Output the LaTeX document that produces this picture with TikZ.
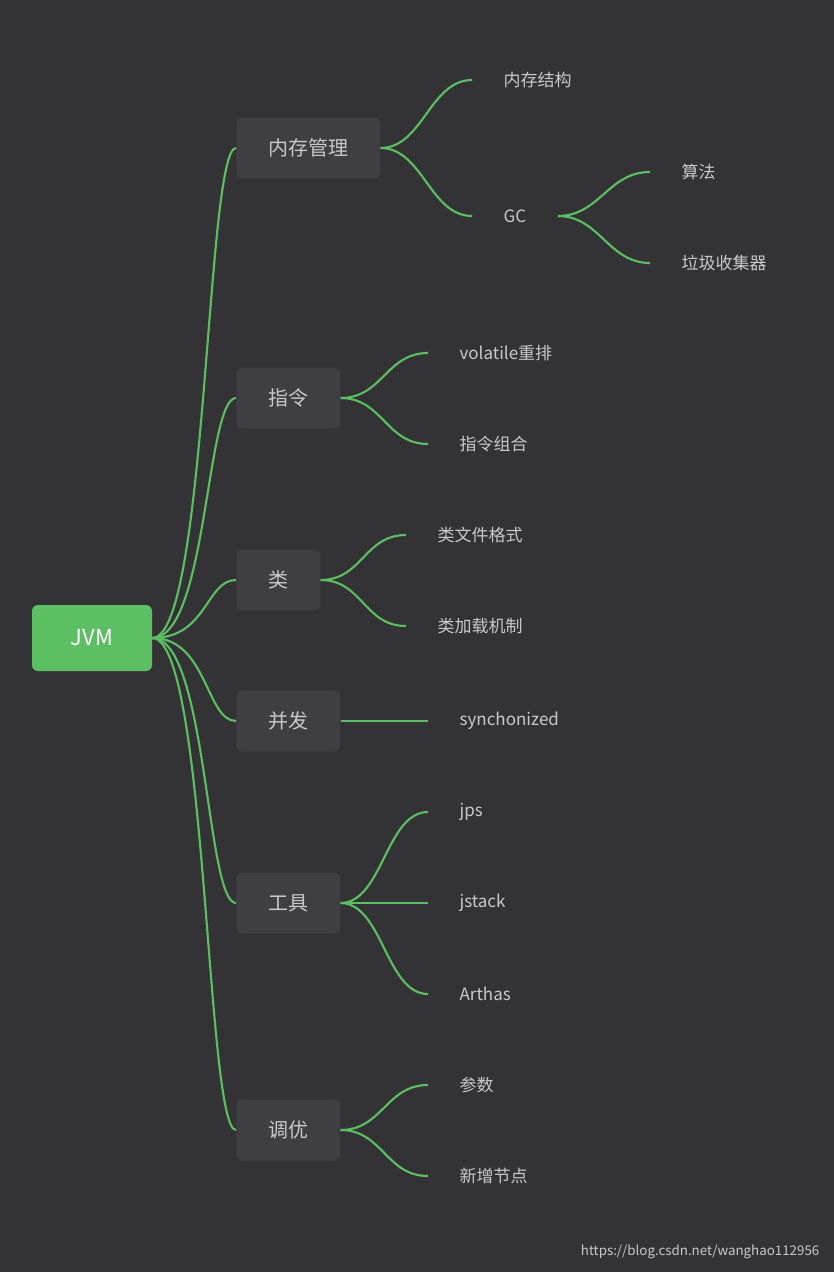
\documentclass[tikz,border=0pt]{standalone}
\usepackage{fontspec}
\setmainfont{Noto Sans CJK SC}
\usetikzlibrary{positioning}
\definecolor{bgcol}{HTML}{333235}
\definecolor{boxcol}{HTML}{3F3E42}
\definecolor{jvmgreen}{HTML}{5CBF63}
\definecolor{linkgreen}{HTML}{5DBD62}
\definecolor{txtcol}{HTML}{C9C9C9}
\tikzset{
  rootbox/.style={fill=jvmgreen, rounded corners=4.5pt, minimum width=90pt, minimum height=49.5pt, text=white, font=\fontsize{16.5}{18}\selectfont},
  topicbox/.style={fill=boxcol, rounded corners=4.5pt, inner xsep=24pt, minimum height=45.75pt, text=txtcol, font=\fontsize{15}{17}\selectfont},
  leaf/.style={inner xsep=23.5pt, inner ysep=2pt, text=txtcol, font=\fontsize{12.75}{14}\selectfont},
  link/.style={draw=linkgreen, line width=1.6pt}
}
\begin{document}
\begin{tikzpicture}[x=0.75pt, y=-0.75pt]
  \fill[bgcol] (0,0) rectangle (834,1272);
  \useasboundingbox (0,0) rectangle (834,1272);
  % root and topics
  \node[rootbox] (jvm) at (92,638) {JVM};
  \node[topicbox, anchor=west] (mem) at (236,148) {内存管理};
  \node[topicbox, anchor=west] (ins) at (236,398) {指令};
  \node[topicbox, anchor=west] (cls) at (236,580) {类};
  \node[topicbox, anchor=west] (con) at (236,721) {并发};
  \node[topicbox, anchor=west] (tool) at (236,903) {工具};
  \node[topicbox, anchor=west] (tune) at (236,1130) {调优};
  % leaves
  \node[leaf, anchor=west] (memst) at (472,80) {内存结构};
  \node[leaf, anchor=west] (gc) at (472,216) {GC};
  \node[leaf, anchor=west] (algo) at (650,172) {算法};
  \node[leaf, anchor=west] (coll) at (650,263) {垃圾收集器};
  \node[leaf, anchor=west] (vol) at (428,353) {volatile重排};
  \node[leaf, anchor=west] (comb) at (428,444) {指令组合};
  \node[leaf, anchor=west] (cfmt) at (406,535) {类文件格式};
  \node[leaf, anchor=west] (cload) at (406,626) {类加载机制};
  \node[leaf, anchor=west] (sync) at (428,721) {synchonized};
  \node[leaf, anchor=west] (jps) at (428,812) {jps};
  \node[leaf, anchor=west] (jstack) at (428,903) {jstack};
  \node[leaf, anchor=west] (arthas) at (428,994) {Arthas};
  \node[leaf, anchor=west] (param) at (428,1085) {参数};
  \node[leaf, anchor=west] (newn) at (428,1176) {新增节点};
  % links
  \foreach \t in {mem,ins,cls,con,tool,tune}
    \draw[link] (jvm.east) .. controls +(55,0) and +(-30,0) .. (\t.west);
  \foreach \a/\b in {mem/memst, mem/gc, gc/algo, gc/coll, ins/vol, ins/comb,
                     cls/cfmt, cls/cload, con/sync, tool/jps, tool/jstack,
                     tool/arthas, tune/param, tune/newn}
    \draw[link] (\a.east) .. controls +(42,0) and +(-42,0) .. (\b.west);
  \node[anchor=east, text=txtcol, font=\fontsize{10}{12}\selectfont] (mark) at (824,1252) {https://blog.csdn.net/wanghao112956};
\end{tikzpicture}
\end{document}
